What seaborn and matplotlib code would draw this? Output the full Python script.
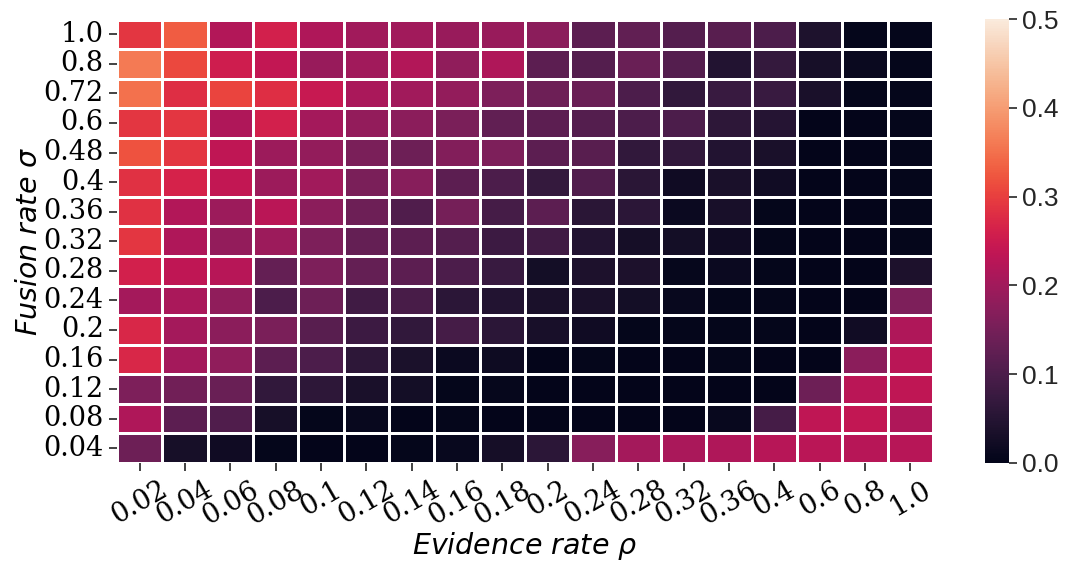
import numpy as np
import pandas as pd
import matplotlib
matplotlib.use("Agg")
import matplotlib.pyplot as plt
import seaborn as sns

# Evidence rate (columns) and fusion rate (rows, top to bottom)
evidence_rates = ["0.02", "0.04", "0.06", "0.08", "0.1", "0.12", "0.14", "0.16", "0.18",
                  "0.2", "0.24", "0.28", "0.32", "0.36", "0.4", "0.6", "0.8", "1.0"]
fusion_rates = ["1.0", "0.8", "0.72", "0.6", "0.48", "0.4", "0.36", "0.32", "0.28",
                "0.24", "0.2", "0.16", "0.12", "0.08", "0.04"]

# Mean error for each (fusion rate, evidence rate) pair
error_grid = [
    [0.29, 0.33, 0.22, 0.26, 0.215, 0.20, 0.20, 0.19, 0.19, 0.175, 0.12, 0.125, 0.11, 0.115, 0.10, 0.04, 0.005, 0.005],
    [0.36, 0.31, 0.255, 0.24, 0.19, 0.20, 0.22, 0.18, 0.215, 0.12, 0.11, 0.135, 0.11, 0.045, 0.07, 0.03, 0.012, 0.005],
    [0.35, 0.28, 0.305, 0.28, 0.245, 0.21, 0.20, 0.185, 0.16, 0.14, 0.135, 0.10, 0.065, 0.075, 0.075, 0.035, 0.005, 0.005],
    [0.29, 0.29, 0.215, 0.26, 0.205, 0.185, 0.175, 0.155, 0.125, 0.12, 0.11, 0.10, 0.10, 0.06, 0.05, 0.002, 0.003, 0.005],
    [0.32, 0.29, 0.235, 0.195, 0.185, 0.155, 0.14, 0.165, 0.16, 0.12, 0.115, 0.065, 0.065, 0.045, 0.035, 0.002, 0.003, 0.005],
    [0.285, 0.265, 0.24, 0.195, 0.20, 0.155, 0.17, 0.12, 0.10, 0.07, 0.105, 0.055, 0.02, 0.035, 0.022, 0.002, 0.003, 0.005],
    [0.285, 0.22, 0.195, 0.23, 0.175, 0.14, 0.105, 0.15, 0.09, 0.12, 0.055, 0.058, 0.015, 0.033, 0.005, 0.002, 0.002, 0.005],
    [0.29, 0.215, 0.185, 0.195, 0.16, 0.13, 0.12, 0.11, 0.08, 0.085, 0.045, 0.028, 0.027, 0.02, 0.005, 0.002, 0.003, 0.005],
    [0.26, 0.235, 0.225, 0.13, 0.16, 0.13, 0.12, 0.10, 0.075, 0.027, 0.038, 0.038, 0.007, 0.015, 0.005, 0.002, 0.002, 0.038],
    [0.205, 0.21, 0.18, 0.10, 0.14, 0.085, 0.095, 0.058, 0.045, 0.035, 0.035, 0.027, 0.01, 0.005, 0.005, 0.002, 0.003, 0.16],
    [0.27, 0.205, 0.175, 0.155, 0.115, 0.08, 0.065, 0.09, 0.058, 0.033, 0.02, 0.005, 0.005, 0.004, 0.004, 0.003, 0.022, 0.215],
    [0.27, 0.205, 0.18, 0.12, 0.10, 0.06, 0.037, 0.015, 0.018, 0.002, 0.004, 0.002, 0.002, 0.004, 0.002, 0.002, 0.175, 0.23],
    [0.16, 0.145, 0.135, 0.065, 0.06, 0.035, 0.027, 0.005, 0.007, 0.002, 0.002, 0.002, 0.002, 0.002, 0.002, 0.14, 0.23, 0.235],
    [0.215, 0.12, 0.105, 0.03, 0.005, 0.01, 0.002, 0.004, 0.002, 0.002, 0.002, 0.002, 0.002, 0.01, 0.09, 0.235, 0.24, 0.215],
    [0.14, 0.03, 0.02, 0.004, 0.003, 0.002, 0.004, 0.01, 0.028, 0.058, 0.17, 0.205, 0.21, 0.215, 0.225, 0.23, 0.225, 0.225],
]

df = pd.DataFrame(error_grid, index=fusion_rates, columns=evidence_rates)

fig = plt.figure(figsize=(10.68, 5.64), dpi=100)
ax = fig.add_axes([0.1096, 0.1791, 0.764, 0.7863])
cax = fig.add_axes([0.9223, 0.1791, 0.0225, 0.7872])

sns.heatmap(df, ax=ax, cbar_ax=cax, cmap="rocket", vmin=0.0, vmax=0.5,
            linewidths=1.0, linecolor="white")

# Tick labels on the grid in a serif face
ax.set_xticklabels(evidence_rates, rotation=30, ha="center",
                   fontfamily="DejaVu Serif", fontsize=19.5)
ax.set_yticklabels(fusion_rates, rotation=0,
                   fontfamily="DejaVu Serif", fontsize=19.5)
ax.tick_params(axis="both", length=6, width=1.2, color="#222222")

ax.set_xlabel(r"Evidence rate $\rho$", fontsize=20.5, fontstyle="italic",
              fontfamily="DejaVu Sans", labelpad=0)
ax.set_ylabel(r"Fusion rate $\sigma$", fontsize=20.5, fontstyle="italic",
              fontfamily="DejaVu Sans", labelpad=0)

# Colour bar ticks
cax.set_yticks([0.0, 0.1, 0.2, 0.3, 0.4, 0.5])
cax.set_yticklabels(["0.0", "0.1", "0.2", "0.3", "0.4", "0.5"],
                    fontfamily="Liberation Sans", fontsize=19, color="#262626")
cax.tick_params(axis="y", length=6, width=1.2, color="#262626")

fig.savefig("out.png", dpi=100)
